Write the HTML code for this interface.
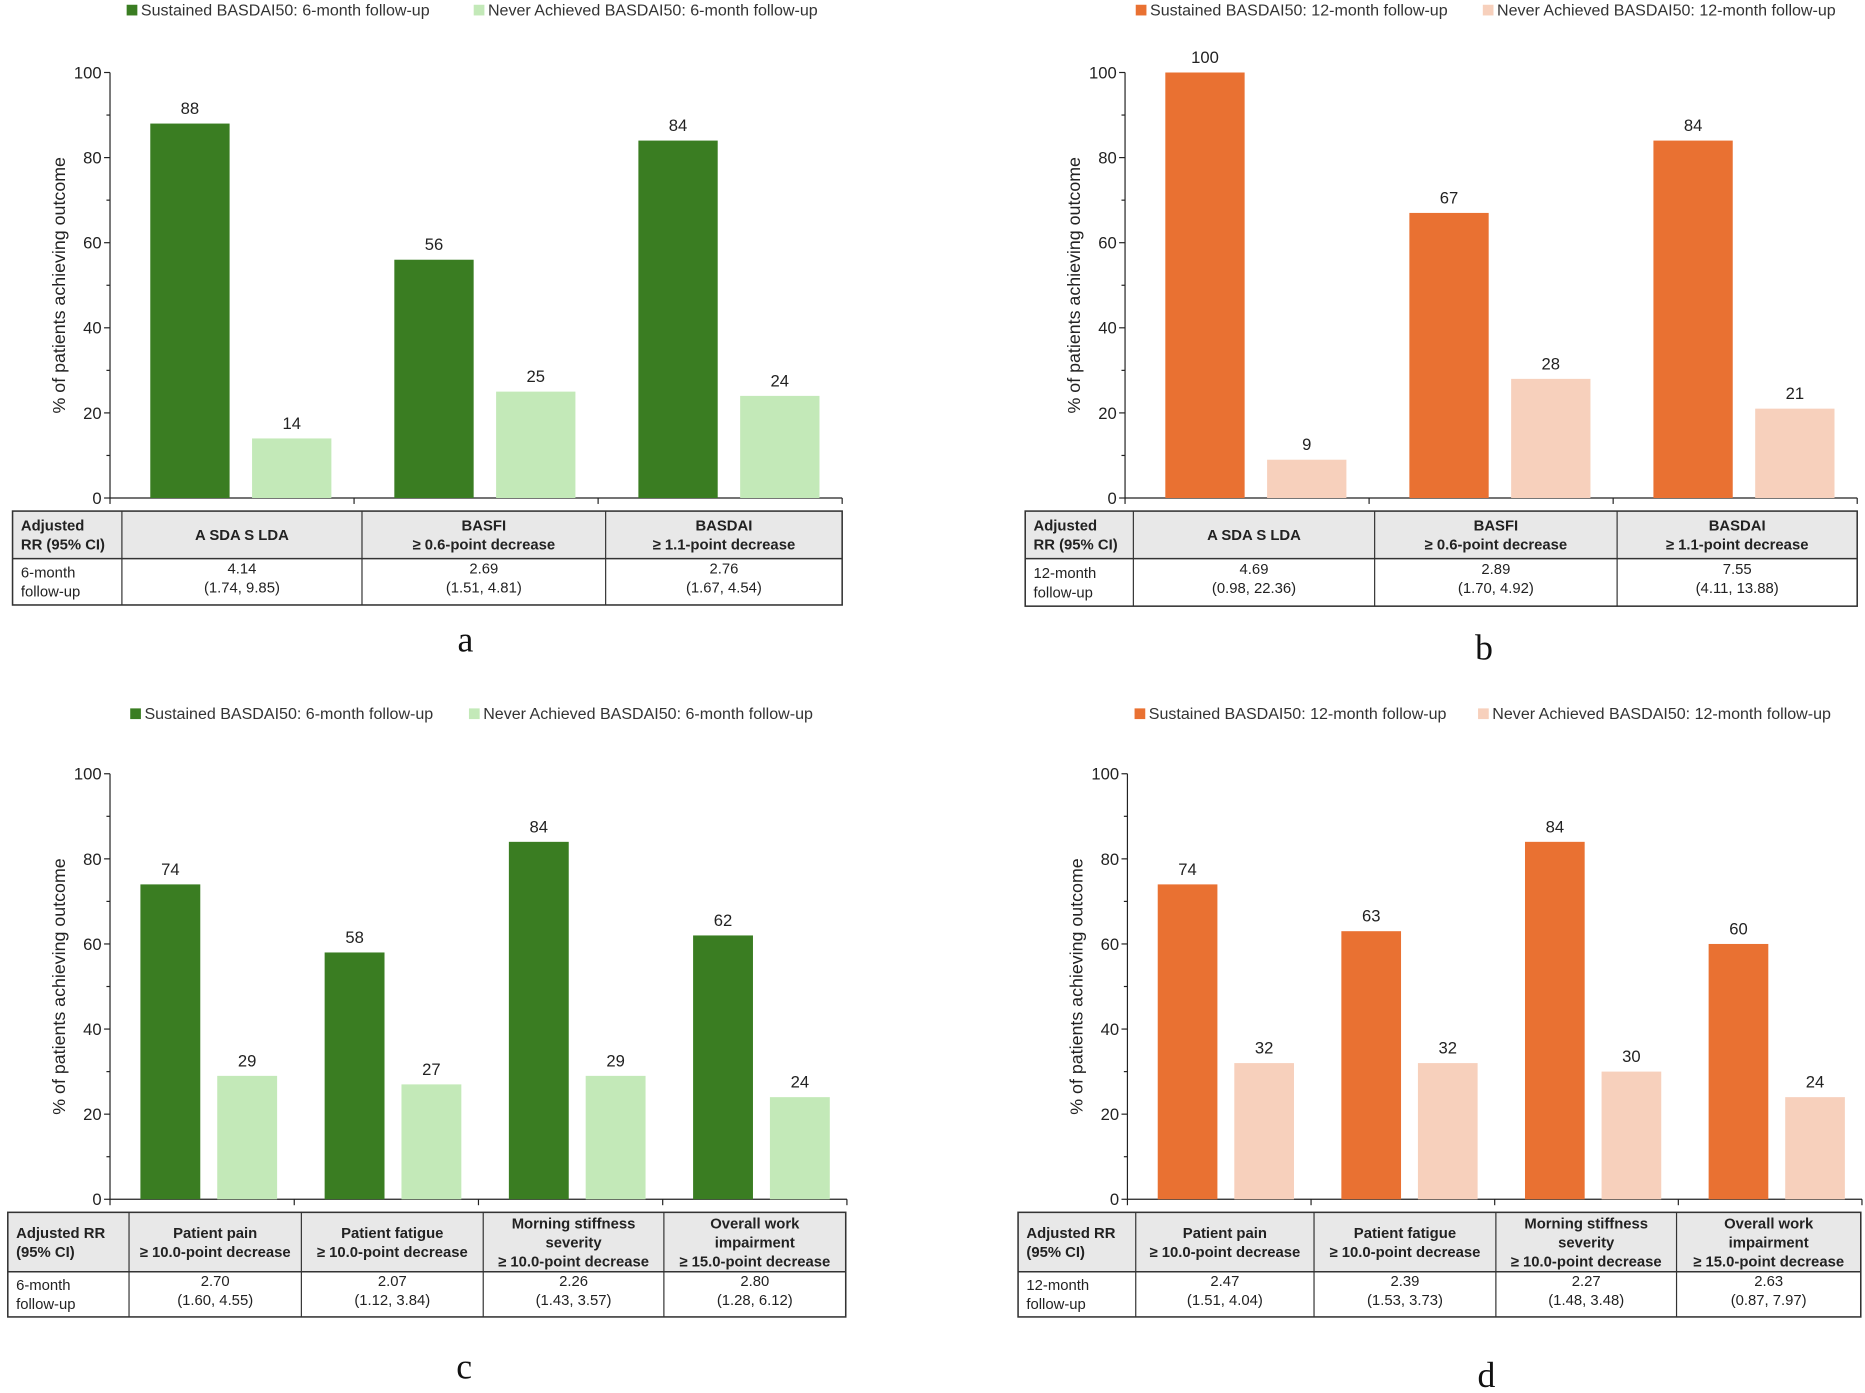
<!DOCTYPE html>
<html><head><meta charset="utf-8"><style>
html,body{margin:0;padding:0;background:#fff;}
svg{display:block;font-family:"Liberation Sans",Arial,sans-serif;}
</style></head><body>
<svg id="chart" width="1865" height="1393" viewBox="0 0 1568 1172" xmlns="http://www.w3.org/2000/svg"></svg>
<script>
// Panel a data
const catsA = [["A SDA S LDA"],["BASFI","≥ 0.6-point decrease"],["BASDAI","≥ 1.1-point decrease"]];
const sustA = [88,56,84];
const neverA = [14,25,24];
const rrA = [["4.14","(1.74, 9.85)"],["2.69","(1.51, 4.81)"],["2.76","(1.67, 4.54)"]];
// Panel b data
const catsB = catsA;
const sustB = [100,67,84];
const neverB = [9,28,21];
const rrB = [["4.69","(0.98, 22.36)"],["2.89","(1.70, 4.92)"],["7.55","(4.11, 13.88)"]];
// Panel c data
const catsC = [["Patient pain","≥ 10.0-point decrease"],["Patient fatigue","≥ 10.0-point decrease"],["Morning stiffness","severity","≥ 10.0-point decrease"],["Overall work","impairment","≥ 15.0-point decrease"]];
const sustC = [74,58,84,62];
const neverC = [29,27,29,24];
const rrC = [["2.70","(1.60, 4.55)"],["2.07","(1.12, 3.84)"],["2.26","(1.43, 3.57)"],["2.80","(1.28, 6.12)"]];
// Panel d data
const catsD = catsC;
const sustD = [74,63,84,60];
const neverD = [32,32,30,24];
const rrD = [["2.47","(1.51, 4.04)"],["2.39","(1.53, 3.73)"],["2.27","(1.48, 3.48)"],["2.63","(0.87, 7.97)"]];
const yTicks = [0,20,40,60,80,100];

const NS="http://www.w3.org/2000/svg";
const svg=document.getElementById('chart');
function el(tag,attrs,parent,text){const e=document.createElementNS(NS,tag);for(const k in attrs)e.setAttribute(k,attrs[k]);if(text!==undefined)e.textContent=text;(parent||svg).appendChild(e);return e;}

function panel(o){
  const g=el('g',{});
  
  
  const y=v=>o.y0-(o.y0-o.y100)*v/100;
  const n=o.cats.length, gw=(o.ax1-o.ax0)/n;
  const lg=el('g',{},g);
  
  
  el('rect',{x:o.leg1-4,y:o.legY-9,width:9,height:9,fill:o.c1},lg);
  const t1=el('text',{x:o.leg1+8,y:o.legY,'font-size':13.5,fill:'#333'},lg,o.legText1);
  
  
  el('rect',{x:o.leg2-4,y:o.legY-9,width:9,height:9,fill:o.c2},lg);
  const t2=el('text',{x:o.leg2+8,y:o.legY,'font-size':13.5,fill:'#333'},lg,o.legText2);
  
  
  el('line',{x1:o.ax0,y1:y(100),x2:o.ax0,y2:o.y0,stroke:'#222','stroke-width':1},g);
  for(let v=0;v<=100;v+=10){el('line',{x1:o.ax0-(v%20===0?5:3),y1:y(v),x2:o.ax0,y2:y(v),stroke:'#222','stroke-width':1},g);}
  yTicks.forEach(v=>{const t=el('text',{x:o.ax0-7,y:y(v)+5,'font-size':14,'text-anchor':'end',fill:'#222'},g,String(v));
    
    });
  const cy=(y(100)+o.y0)/2;
  const yt=el('text',{x:0,y:0,'font-size':15,'text-anchor':'middle',fill:'#222',transform:`translate(${o.ax0-38},${cy}) rotate(-90)`},g,'% of patients achieving outcome');
  
  
  el('line',{x1:o.ax0,y1:o.y0,x2:o.ax1,y2:o.y0,stroke:'#222','stroke-width':1},g);
  for(let i=0;i<=n;i++){el('line',{x1:o.ax0+gw*i,y1:o.y0,x2:o.ax0+gw*i,y2:o.y0+5,stroke:'#222','stroke-width':1},g);}
  for(let i=0;i<n;i++){
    [[o.s1[i],0.165,o.c1,'sustained'],[o.s2[i],0.582,o.c2,'never']].forEach(([v,off,c,nm])=>{
      const x=o.ax0+gw*i+gw*off, w=gw*0.325;
      const r=el('rect',{x:x,y:y(v),width:w,height:o.y0-y(v),fill:c},g);
      
      
      const t=el('text',{x:x+w/2,y:y(v)-8,'font-size':14,'text-anchor':'middle',fill:'#222'},g,String(v));
      
      
    });
  }
  const tb=el('g',{},g);
  
  
  const cx=o.cols, T=o.tTop, H=o.tMid, B=o.tBot;
  el('rect',{x:cx[0],y:T,width:cx[cx.length-1]-cx[0],height:H-T,fill:'#e8e8e8'},tb);
  el('rect',{x:cx[0],y:T,width:cx[cx.length-1]-cx[0],height:B-T,fill:'none',stroke:'#333','stroke-width':1.3},tb);
  el('line',{x1:cx[0],y1:H,x2:cx[cx.length-1],y2:H,stroke:'#333','stroke-width':1.3},tb);
  cx.slice(1,-1).forEach(x=>el('line',{x1:x,y1:T,x2:x,y2:B,stroke:'#333','stroke-width':1},tb));
  const hl=o.hdr, hy=(T+H)/2;
  hl.forEach((s,k)=>el('text',{x:cx[0]+7,y:hy-(hl.length-1)*8+k*16+4.5,'font-size':12.5,'font-weight':'bold',fill:'#222'},tb,s));
  const rl=o.rowLbl, ry=(H+B)/2;
  rl.forEach((s,k)=>el('text',{x:cx[0]+7,y:ry-8+k*16+4.5,'font-size':12.5,fill:'#222'},tb,s));
  for(let i=0;i<n;i++){
    const mx=(cx[i+1]+cx[i+2])/2, L=o.cats[i];
    L.forEach((s,k)=>el('text',{x:mx,y:hy-(L.length-1)*8+k*16+4.5,'font-size':12.5,'font-weight':'bold','text-anchor':'middle',fill:'#222'},tb,s));
    o.rr[i].forEach((s,k)=>el('text',{x:mx,y:ry-8+k*16+1,'font-size':12.5,'text-anchor':'middle',fill:'#222'},tb,s));
  }
  const lt=el('text',{x:o.letX,y:o.letY,'font-size':30,'text-anchor':'middle','font-family':'"Liberation Serif",serif',fill:'#111'},g,o.letter);
  
  
}
const G1='#3a7d22',G2='#c3e9b8',O1='#e97132',O2='#f7d0bc';
panel({letter:'a',cats:catsA,s1:sustA,s2:neverA,rr:rrA,c1:G1,c2:G2,ax0:92,ax1:708,y0:419,y100:61,
  legY:13,leg1:110,leg2:402,legText1:'Sustained BASDAI50: 6-month follow-up',legText2:'Never Achieved BASDAI50: 6-month follow-up',
  cols:[10,102,304,509,708],tTop:430,tMid:470,tBot:509,hdr:['Adjusted','RR (95% CI)'],rowLbl:['6-month','follow-up'],letX:391,letY:548});
panel({letter:'b',cats:catsB,s1:sustB,s2:neverB,rr:rrB,c1:O1,c2:O2,ax0:946,ax1:1562,y0:419,y100:61,
  legY:13,leg1:959,leg2:1251,legText1:'Sustained BASDAI50: 12-month follow-up',legText2:'Never Achieved BASDAI50: 12-month follow-up',
  cols:[862,953,1156,1360,1562],tTop:430,tMid:470,tBot:510,hdr:['Adjusted','RR (95% CI)'],rowLbl:['12-month','follow-up'],letX:1248,letY:555});
panel({letter:'c',cats:catsC,s1:sustC,s2:neverC,rr:rrC,c1:G1,c2:G2,ax0:92,ax1:712,y0:1009,y100:651,
  legY:605,leg1:113,leg2:398,legText1:'Sustained BASDAI50: 6-month follow-up',legText2:'Never Achieved BASDAI50: 6-month follow-up',
  cols:[6,108,253,406,558,711],tTop:1020,tMid:1070,tBot:1108,hdr:['Adjusted RR','(95% CI)'],rowLbl:['6-month','follow-up'],letX:390,letY:1160});
panel({letter:'d',cats:catsD,s1:sustD,s2:neverD,rr:rrD,c1:O1,c2:O2,ax0:948,ax1:1566,y0:1009,y100:651,
  legY:605,leg1:958,leg2:1247,legText1:'Sustained BASDAI50: 12-month follow-up',legText2:'Never Achieved BASDAI50: 12-month follow-up',
  cols:[856,955,1105,1258,1410,1565],tTop:1020,tMid:1070,tBot:1108,hdr:['Adjusted RR','(95% CI)'],rowLbl:['12-month','follow-up'],letX:1250,letY:1167});
</script>
</body></html>
